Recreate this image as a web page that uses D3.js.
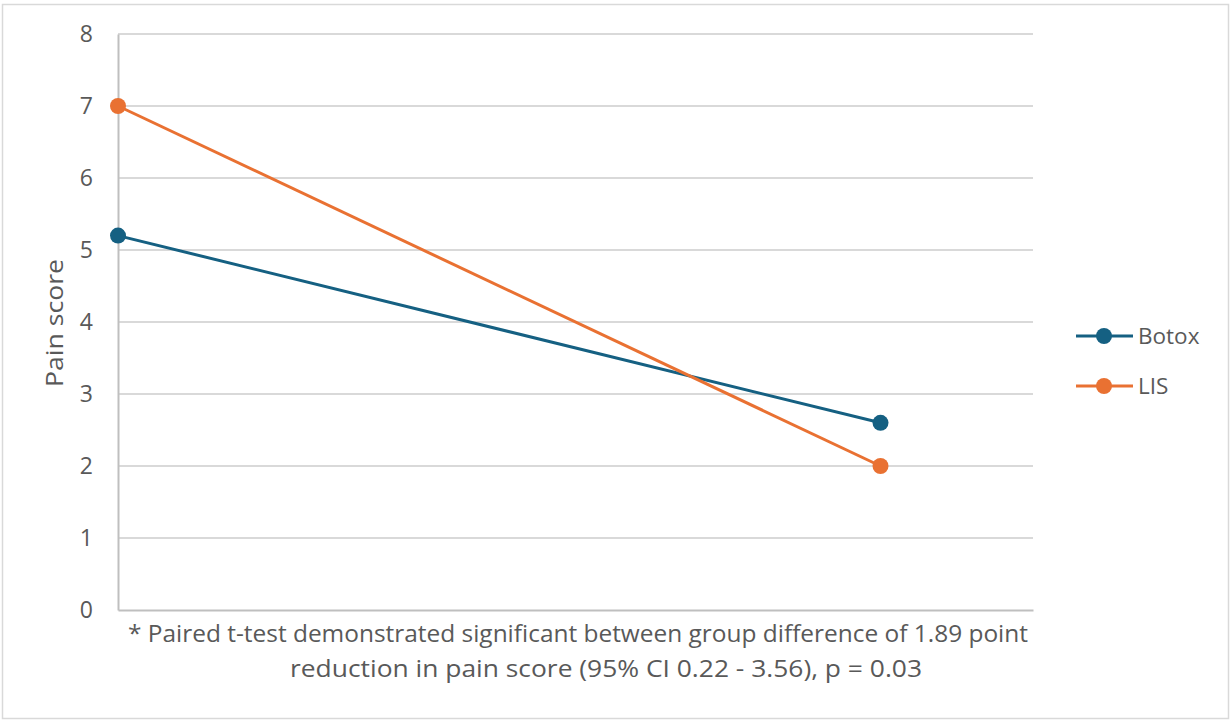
<!DOCTYPE html>
<html><head><meta charset="utf-8">
<script src="https://cdn.jsdelivr.net/npm/d3@7"></script>
<style>body{margin:0;background:#fff;}svg{display:block;}</style>
</head><body>
<svg id="c" width="1232" height="724"></svg>
<script>
const xValues = [0, 1];
const seriesNames = ["Botox", "LIS"];
const botox = [5.2, 2.6];
const lis = [7, 2];
const yTicks = [0, 1, 2, 3, 4, 5, 6, 7, 8];
const colors = ["#156082", "#e97132"];
const yTitle = "Pain score";
const note = ["* Paired t-test demonstrated significant between group difference of 1.89 point",
              "reduction in pain score (95% CI 0.22 - 3.56), p = 0.03"];

const svg = d3.select("#c");
const font = "'Open Sans', 'Liberation Sans', sans-serif";
svg.append("rect").attr("x", 2.5).attr("y", 4.5).attr("width", 1226).attr("height", 714)
  .attr("fill", "#fff").attr("stroke", "#d9d9d9").attr("stroke-width", 1.5);

const x = d3.scaleLinear().domain([0, 1.2]).range([118, 1033]);
const y = d3.scaleLinear().domain([0, 8]).range([610, 34]);

// gridlines
svg.append("g").selectAll("line").data(yTicks.filter(d => d > 0)).join("line")
  .attr("x1", x(0)).attr("x2", x(1.2)).attr("y1", d => y(d)).attr("y2", d => y(d))
  .attr("stroke", "#d9d9d9").attr("stroke-width", 2);

// axes
const yAxis = d3.axisLeft(y).tickValues(yTicks).tickSize(0).tickPadding(25);
const gy = svg.append("g").attr("transform", `translate(${x(0)},0)`).call(yAxis);
gy.select(".domain").attr("stroke", "#bfbfbf").attr("stroke-width", 2);
gy.selectAll("text").attr("font-family", font).attr("font-size", 23).attr("fill", "#595959");

const xAxis = d3.axisBottom(x).tickValues([]).tickSize(0);
const gx = svg.append("g").attr("transform", `translate(0,${y(0)})`).call(xAxis);
gx.select(".domain").attr("stroke", "#bfbfbf").attr("stroke-width", 2);

// series
const data = [botox, lis];
const line = d3.line().x((d, i) => x(xValues[i])).y(d => y(d));
data.forEach((vals, k) => {
  svg.append("path").datum(vals).attr("d", line).attr("fill", "none")
    .attr("stroke", colors[k]).attr("stroke-width", 3);
  svg.append("g").selectAll("circle").data(vals).join("circle")
    .attr("cx", (d, i) => x(xValues[i])).attr("cy", d => y(d)).attr("r", 8)
    .attr("fill", colors[k]);
});

// y title
svg.append("text").attr("transform", "translate(63,323) rotate(-90)")
  .attr("text-anchor", "middle").attr("font-family", font).attr("font-size", 23)
  .attr("textLength", 128).attr("lengthAdjust", "spacingAndGlyphs")
  .attr("fill", "#595959").text(yTitle);

// note
const noteStart = [128, 290], noteLen = [900, 632];
note.forEach((t, i) => {
  svg.append("text").attr("x", noteStart[i]).attr("y", 642 + i * 35)
    .attr("textLength", noteLen[i]).attr("lengthAdjust", "spacingAndGlyphs")
    .attr("font-family", font).attr("font-size", 23).attr("fill", "#595959").text(t);
});

// legend
seriesNames.forEach((n, k) => {
  const ly = 336 + k * 50;
  const g = svg.append("g");
  g.append("line").attr("x1", 1076).attr("x2", 1133).attr("y1", ly).attr("y2", ly)
    .attr("stroke", colors[k]).attr("stroke-width", 3);
  g.append("circle").attr("cx", 1104).attr("cy", ly).attr("r", 8).attr("fill", colors[k]);
  g.append("text").attr("x", 1138).attr("y", ly + 8).attr("font-family", font)
    .attr("font-size", 22.5).attr("fill", "#595959").text(n);
});
</script>
</body></html>
